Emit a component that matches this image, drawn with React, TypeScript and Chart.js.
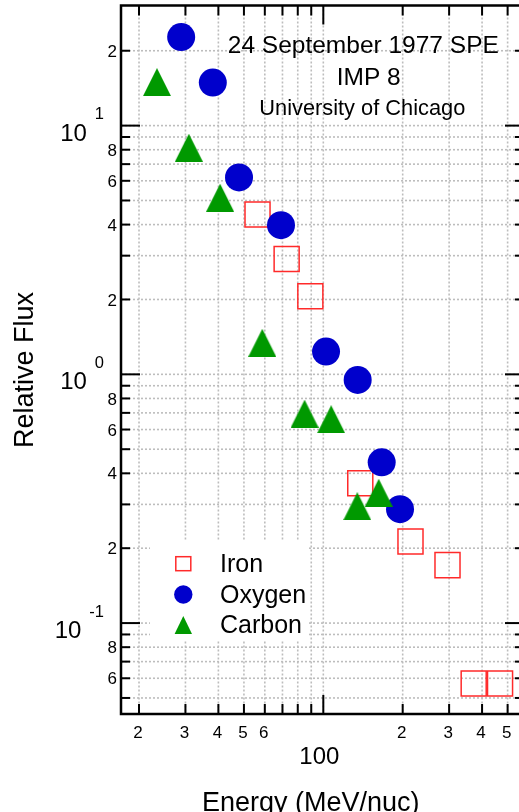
import { useEffect, useRef } from 'react';
import { Chart, registerables } from 'chart.js';

Chart.register(...registerables);

// ---- data ----
const seriesNames = ['Iron', 'Oxygen', 'Carbon'];
const ironEnergy = [56.3, 72.6, 89.3, 138.1, 214.1, 295.8, 371.8, 468];
const ironFlux = [4.39, 2.91, 2.06, 0.365, 0.213, 0.171, 0.0572, 0.0572];
const oxygenEnergy = [28.9, 38.1, 47.9, 69.1, 102.4, 135, 166.5, 195.4];
const oxygenFlux = [22.7, 14.9, 6.19, 3.98, 1.235, 0.95, 0.443, 0.287];
const carbonEnergy = [23.4, 30.9, 40.6, 58.7, 84.9, 107.1, 134.5, 162.2];
const carbonFlux = [14.96, 8.15, 5.13, 1.339, 0.695, 0.66, 0.295, 0.334];

const titleLines = ['24 September 1977 SPE', 'IMP 8', 'University of Chicago'];
const xAxisTitle = 'Energy (MeV/nuc)';
const yAxisTitle = 'Relative Flux';

const xTickValues = [20, 30, 40, 50, 60, 70, 80, 90, 100, 200, 300, 400, 500];
const xTickLabels = ['2', '3', '4', '5', '6', '', '', '', '100', '2', '3', '4', '5'];
const xMajorValues = [100];
const yTickValues = [
  0.05, 0.06, 0.07, 0.08, 0.09, 0.1, 0.2, 0.3, 0.4, 0.5, 0.6, 0.7, 0.8, 0.9,
  1, 2, 3, 4, 5, 6, 7, 8, 9, 10, 20,
];
const yMinorLabelValues = [0.06, 0.08, 0.2, 0.4, 0.6, 0.8, 2, 4, 6, 8, 20];
const yMinorLabels = ['6', '8', '2', '4', '6', '8', '2', '4', '6', '8', '2'];
const yDecadeValues = [0.1, 1, 10];
const yDecadeExponents = ['-1', '0', '1'];

const xMin = 17.09;
const xMax = 576.9;
const yMin = 0.0431;
const yMax = 30.4;

const FONT = '"Liberation Sans", Arial, Helvetica, sans-serif';
const RED = '#ff2a2a';
const BLUE = '#0000cc';
const GREEN = '#009900';

function makeTriangle(w: number, h: number, color: string) {
  const c = document.createElement('canvas');
  c.width = w;
  c.height = h;
  const g = c.getContext('2d')!;
  g.fillStyle = color;
  g.beginPath();
  g.moveTo(w / 2, 0);
  g.lineTo(w, h);
  g.lineTo(0, h);
  g.closePath();
  g.fill();
  return c;
}

const decorPlugin = {
  id: 'decor',
  beforeDatasetsDraw(chart: any) {
    const { ctx, chartArea: a, scales } = chart;
    const xs = scales.x;
    const ys = scales.y;
    const line = (x1: number, y1: number, x2: number, y2: number) => {
      ctx.beginPath();
      ctx.moveTo(x1, y1);
      ctx.lineTo(x2, y2);
      ctx.stroke();
    };
    ctx.save();

    // dotted grid
    ctx.strokeStyle = '#bdbdbd';
    ctx.lineWidth = 1.6;
    ctx.setLineDash([2, 2]);
    xTickValues.forEach((v) => {
      const px = xs.getPixelForValue(v);
      if (px < a.left + 3 || px > a.right - 3) return;
      line(px, a.top, px, a.bottom);
    });
    yTickValues.forEach((v) => {
      const py = ys.getPixelForValue(v);
      if (py < a.top + 3 || py > a.bottom - 3) return;
      line(a.left, py, a.right, py);
    });
    ctx.setLineDash([]);

    // legend background
    ctx.fillStyle = '#ffffff';
    ctx.fillRect(150, 541, 158, 99);

    // frame
    ctx.strokeStyle = '#000';
    ctx.lineWidth = 2.5;
    ctx.strokeRect(a.left, a.top, a.right - a.left, a.bottom - a.top);

    // tick marks (inside, all four sides)
    ctx.lineWidth = 2;
    xTickValues.forEach((v) => {
      const px = xs.getPixelForValue(v);
      const len = xMajorValues.includes(v) ? 19 : 10;
      line(px, a.bottom, px, a.bottom - len);
      line(px, a.top, px, a.top + len);
    });
    yTickValues.forEach((v) => {
      const py = ys.getPixelForValue(v);
      const len = yDecadeValues.includes(v) ? 19 : 9;
      line(a.left, py, a.left + len, py);
      line(a.right, py, a.right - len, py);
    });

    // y labels
    ctx.fillStyle = '#000';
    ctx.textBaseline = 'alphabetic';
    ctx.textAlign = 'right';
    ctx.font = `17px ${FONT}`;
    yMinorLabelValues.forEach((v, i) => {
      const py = ys.getPixelForValue(v);
      ctx.fillText(yMinorLabels[i], 117, py + 6.1);
    });
    yDecadeValues.forEach((v, i) => {
      const py = ys.getPixelForValue(v);
      ctx.font = `16.5px ${FONT}`;
      const ew = ctx.measureText(yDecadeExponents[i]).width;
      ctx.fillText(yDecadeExponents[i], 104, py - 6.5);
      ctx.font = `24px ${FONT}`;
      ctx.fillText('10', 104 - ew - 8, py + 15);
    });

    // x labels
    ctx.textAlign = 'center';
    xTickValues.forEach((v, i) => {
      const lbl = xTickLabels[i];
      if (!lbl) return;
      const px = xs.getPixelForValue(v);
      if (xMajorValues.includes(v)) {
        ctx.font = `24px ${FONT}`;
        ctx.fillText(lbl, px - 4, 764);
      } else {
        ctx.font = `17px ${FONT}`;
        ctx.fillText(lbl, px - 1, 737.8);
      }
    });

    // axis titles
    ctx.font = `27px ${FONT}`;
    ctx.fillText(xAxisTitle, 310.8, 811);
    ctx.save();
    ctx.translate(33.3, 370);
    ctx.rotate(-Math.PI / 2);
    ctx.fillText(yAxisTitle, 0, 0);
    ctx.restore();

    // title block
    ctx.font = `24.5px ${FONT}`;
    ctx.fillText(titleLines[0], 363.3, 53.3);
    ctx.fillText(titleLines[1], 368.7, 85);
    ctx.font = `21.8px ${FONT}`;
    ctx.fillText(titleLines[2], 362.3, 115);

    // legend
    const lx = 183.3;
    ctx.strokeStyle = RED;
    ctx.lineWidth = 1.5;
    ctx.strokeRect(lx - 7.5, 563.7 - 7, 15, 14);
    ctx.fillStyle = BLUE;
    ctx.beginPath();
    ctx.arc(lx, 594.5, 9.2, 0, Math.PI * 2);
    ctx.fill();
    ctx.fillStyle = GREEN;
    ctx.beginPath();
    ctx.moveTo(lx, 616);
    ctx.lineTo(lx + 8.7, 634);
    ctx.lineTo(lx - 8.7, 634);
    ctx.closePath();
    ctx.fill();
    ctx.fillStyle = '#000';
    ctx.textAlign = 'left';
    ctx.font = `25px ${FONT}`;
    ctx.fillText(seriesNames[0], 220, 571.7);
    ctx.fillText(seriesNames[1], 220, 602.7);
    ctx.fillText(seriesNames[2], 220, 633.3);

    ctx.restore();
  },
};

export default function App() {
  const canvasRef = useRef<HTMLCanvasElement | null>(null);

  useEffect(() => {
    if (!canvasRef.current) return;
    const tri = makeTriangle(28, 28, GREEN);
    const toPts = (xs: number[], ys: number[]) => xs.map((x, i) => ({ x, y: ys[i] }));
    const chart = new Chart(canvasRef.current, {
      type: 'scatter',
      data: {
        datasets: [
          {
            label: seriesNames[0],
            data: toPts(ironEnergy, ironFlux),
            pointStyle: 'rect',
            pointRadius: 17.7,
            borderColor: RED,
            borderWidth: 1.5,
            backgroundColor: 'rgba(0,0,0,0)',
            order: 3,
          },
          {
            label: seriesNames[1],
            data: toPts(oxygenEnergy, oxygenFlux),
            pointStyle: 'circle',
            pointRadius: 14,
            borderWidth: 0,
            borderColor: BLUE,
            backgroundColor: BLUE,
            order: 2,
          },
          {
            label: seriesNames[2],
            data: toPts(carbonEnergy, carbonFlux),
            pointStyle: tri as any,
            pointRadius: 14,
            borderWidth: 0,
            backgroundColor: GREEN,
            order: 1,
          },
        ],
      },
      options: {
        animation: false,
        responsive: true,
        maintainAspectRatio: false,
        devicePixelRatio: 1,
        events: [],
        layout: { autoPadding: false, padding: { left: 121, right: 6, top: 5.5, bottom: 98 } },
        plugins: { legend: { display: false }, tooltip: { enabled: false } },
        scales: {
          x: { type: 'logarithmic', min: xMin, max: xMax, display: false },
          y: { type: 'logarithmic', min: yMin, max: yMax, display: false },
        },
      },
      plugins: [decorPlugin],
    });
    return () => chart.destroy();
  }, []);

  return (
    <div style={{ position: 'fixed', left: 0, top: 0, width: 519, height: 812, overflow: 'hidden', background: '#fff' }}>
      <div style={{ position: 'relative', width: 530, height: 812 }}>
        <canvas ref={canvasRef} />
      </div>
    </div>
  );
}
